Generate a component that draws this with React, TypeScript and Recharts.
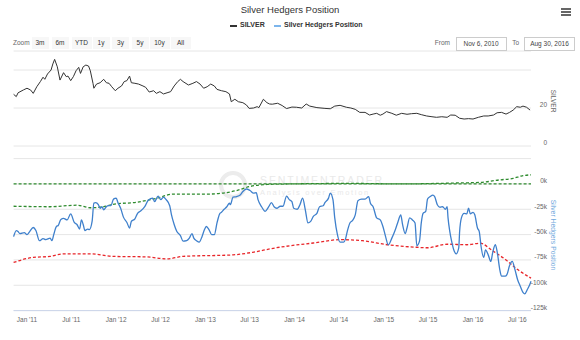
import React from "react";
import { LineChart, Line, XAxis, YAxis, CartesianGrid } from "recharts";

// dates are decimal years
const silverDates = [
  2010.85, 2010.88, 2010.9, 2010.96, 2011.0, 2011.04, 2011.07, 2011.11, 2011.15, 2011.18, 2011.2, 2011.23,
  2011.27, 2011.29, 2011.31, 2011.34, 2011.37, 2011.41, 2011.44, 2011.46, 2011.49, 2011.52, 2011.55, 2011.58,
  2011.6, 2011.63, 2011.66, 2011.69, 2011.71, 2011.74, 2011.75, 2011.78, 2011.82, 2011.86, 2011.89, 2011.92,
  2011.95, 2011.99, 2012.02, 2012.06, 2012.09, 2012.12, 2012.15, 2012.17, 2012.21, 2012.25, 2012.3, 2012.33,
  2012.37, 2012.42, 2012.45, 2012.49, 2012.53, 2012.57, 2012.61, 2012.65, 2012.69, 2012.72, 2012.75, 2012.81,
  2012.86, 2012.9, 2012.94, 2012.98, 2013.02, 2013.06, 2013.1, 2013.13, 2013.18, 2013.23, 2013.27, 2013.29,
  2013.33, 2013.37, 2013.42, 2013.46, 2013.49, 2013.54, 2013.58, 2013.6, 2013.65, 2013.69, 2013.72, 2013.75,
  2013.81, 2013.86, 2013.91, 2013.97, 2014.02, 2014.08, 2014.13, 2014.17, 2014.25, 2014.34, 2014.4, 2014.45,
  2014.51, 2014.58, 2014.63, 2014.68, 2014.73, 2014.79, 2014.84, 2014.88, 2014.92, 2014.96, 2014.99, 2015.03,
  2015.09, 2015.14, 2015.2, 2015.26, 2015.31, 2015.37, 2015.42, 2015.48, 2015.54, 2015.59, 2015.65, 2015.71,
  2015.75, 2015.8, 2015.85, 2015.9, 2015.95, 2016.0, 2016.06, 2016.12, 2016.17, 2016.23, 2016.27, 2016.32,
  2016.37, 2016.41, 2016.45, 2016.49, 2016.53, 2016.56, 2016.6, 2016.64,
];
const silverPrice = [
  27.2, 26, 28, 29.5, 30.4, 29.5, 27.7, 31.2, 33.9, 36.2, 35.1, 37.9,
  40, 43.2, 45.6, 41.7, 34.7, 38.6, 36.5, 36.8, 34.4, 36.5, 39.6, 41.4,
  38.2, 41.7, 42.6, 42.1, 39.6, 33, 30.4, 32.6, 33.3, 35.1, 33.3, 33,
  31.2, 29.1, 30.4, 31.6, 33.9, 34.4, 36.8, 33.3, 33, 32.6, 31.6, 30.9,
  28.4, 29.1, 27.7, 28.6, 27.4, 28, 28.6, 31.6, 33.9, 35.1, 33.9, 32.1,
  33, 33.9, 32.6, 30.4, 31.2, 32.6, 31.6, 29.8, 29.1, 28.6, 27.4, 23.3,
  24.6, 23.3, 22.8, 21.6, 19.8, 20, 20.7, 20.2, 24.6, 22.8, 22.1, 22,
  22.5, 21.3, 19.7, 20.5, 20.4, 20, 22.1, 21, 20.2, 19.8, 19.6, 21,
  21.4, 20.4, 20, 19.3, 17.7, 17.7, 16.3, 16.8, 17.2, 16.2, 16.8, 18.1,
  17.2, 16.2, 17.2, 16.7, 17, 17.2, 16.5, 15.8, 15.4, 15.1, 15.4, 15.1,
  16.3, 16.2, 14.6, 14.2, 14.4, 14.2, 15.1, 15.8, 15.8, 16.3, 17.5, 17.7,
  16.8, 17.7, 18.9, 20.7, 20.4, 21, 20.4, 18.9,
];

const hedgerDates = [
  2010.85, 2010.88, 2010.9, 2010.92, 2010.97, 2011.0, 2011.03, 2011.07, 2011.1, 2011.14, 2011.18, 2011.21,
  2011.26, 2011.28, 2011.3, 2011.33, 2011.35, 2011.38, 2011.41, 2011.45, 2011.49, 2011.53, 2011.56, 2011.59,
  2011.61, 2011.63, 2011.65, 2011.68, 2011.7, 2011.73, 2011.75, 2011.77, 2011.8, 2011.82, 2011.84, 2011.86,
  2011.89, 2011.91, 2011.94, 2011.97, 2012.0, 2012.02, 2012.05, 2012.08, 2012.12, 2012.15, 2012.17, 2012.21,
  2012.24, 2012.27, 2012.32, 2012.36, 2012.41, 2012.43, 2012.47, 2012.5, 2012.53, 2012.56, 2012.6, 2012.62,
  2012.65, 2012.68, 2012.72, 2012.75, 2012.79, 2012.82, 2012.85, 2012.87, 2012.9, 2012.93, 2012.96, 2012.99,
  2013.01, 2013.04, 2013.07, 2013.1, 2013.13, 2013.16, 2013.18, 2013.21, 2013.24, 2013.27, 2013.28, 2013.31,
  2013.35, 2013.39, 2013.42, 2013.46, 2013.5, 2013.54, 2013.57, 2013.59, 2013.63, 2013.67, 2013.71, 2013.74,
  2013.77, 2013.8, 2013.84, 2013.87, 2013.91, 2013.94, 2013.97, 2013.99, 2014.03, 2014.06, 2014.09, 2014.12,
  2014.15, 2014.18, 2014.21, 2014.25, 2014.28, 2014.32, 2014.34, 2014.38, 2014.4, 2014.43, 2014.45, 2014.48,
  2014.51, 2014.55, 2014.57, 2014.59, 2014.62, 2014.65, 2014.68, 2014.71, 2014.75, 2014.79, 2014.83, 2014.85,
  2014.88, 2014.92, 2014.96, 2014.99, 2015.02, 2015.05, 2015.09, 2015.13, 2015.16, 2015.19, 2015.21, 2015.24,
  2015.26, 2015.29, 2015.32, 2015.35, 2015.37, 2015.4, 2015.42, 2015.44, 2015.47, 2015.49, 2015.52, 2015.55,
  2015.57, 2015.6, 2015.63, 2015.66, 2015.69, 2015.71, 2015.72, 2015.74, 2015.76, 2015.79, 2015.81, 2015.84,
  2015.85, 2015.87, 2015.9, 2015.93, 2015.95, 2015.97, 2016.0, 2016.02, 2016.05, 2016.07, 2016.09, 2016.12,
  2016.14, 2016.17, 2016.2, 2016.22, 2016.25, 2016.27, 2016.3, 2016.32, 2016.36, 2016.38, 2016.41, 2016.44,
  2016.47, 2016.5, 2016.53, 2016.56, 2016.58, 2016.61, 2016.64, 2016.65,
];
// thousands of contracts
const hedgerPosition = [
  -52, -46, -47, -49, -48, -50, -47, -43, -46, -56, -54, -55,
  -53.5, -56, -50, -42, -41, -35, -34, -35.5, -29.5, -38, -40, -44.5,
  -35.5, -40, -46, -44.5, -45, -37, -19, -18.5, -20.5, -24, -22.5, -25.5,
  -22.5, -21.5, -21.5, -15, -14, -18.5, -24, -32.5, -38, -43.5, -37, -34.5,
  -29, -27, -22.5, -16, -14, -17.5, -12, -15.5, -13, -15.5, -21.5, -30.5,
  -40, -47, -51, -56.5, -56, -53.5, -49, -53.5, -56, -57.5, -52.5, -45,
  -42, -45, -50, -50, -38.5, -29.5, -28, -25, -22.5, -19, -20.5, -13,
  -12.5, -11, -7.5, -5, -6.5, -9, -8.5, -15.5, -22.5, -27, -22.5, -18.5,
  -22.5, -24, -22, -22, -12, -15.5, -17.5, -24, -25, -20.5, -14, -25.5,
  -38.5, -37, -32, -29, -22.5, -21.5, -18.5, -14, -9, -15.5, -33.5, -50,
  -57.5, -57.5, -54.5, -47, -38.5, -36, -30.5, -16.5, -15, -15, -12.5, -19,
  -22.5, -33.5, -35.5, -42, -52, -60, -53.5, -45, -37, -30.5, -40, -49,
  -43.5, -33.5, -35.5, -38.5, -61, -56.5, -38.5, -29, -27, -15, -12.5, -11,
  -12.5, -20.5, -23, -22.5, -25, -22.5, -33.5, -47, -56.5, -66.5, -69, -63,
  -47, -33.5, -29, -29.5, -24, -29.5, -28, -30.5, -43.5, -47, -61.5, -72.5,
  -65, -70, -76.5, -68, -60, -66.5, -84.5, -91, -91, -89.5, -80.5, -76.5,
  -84.5, -94.5, -101, -107, -108.5, -104, -98.5, -96,
];

const upperBandDates = [2010.85, 2013.0, 2016.65];
const upperBand = [0, 0, 0];

const lowerBandDates = [
  2010.85, 2011.26, 2011.56, 2011.71, 2011.82, 2012.01, 2012.19, 2012.36, 2012.46, 2012.64, 2013.02, 2013.2,
  2013.35, 2013.5, 2013.69, 2013.95, 2014.62, 2015.18, 2015.85, 2016.08, 2016.3, 2016.45, 2016.55, 2016.65,
];
const lowerBand = [
  -22, -22.5, -21, -23.5, -23, -19.5, -18.5, -16, -14, -10, -10, -9,
  -6.5, -2.5, -0.5, 0, 0.5, 0, 1, 1.5, 4, 5.5, 8, 9,
];

const redBandDates = [
  2010.85, 2011.07, 2011.26, 2011.41, 2011.71, 2011.96, 2012.34, 2012.57, 2012.75, 2013.31, 2013.53, 2013.76,
  2013.95, 2014.21, 2014.51, 2014.76, 2015.04, 2015.33, 2015.49, 2015.71, 2015.93, 2016.08, 2016.22, 2016.37,
  2016.5, 2016.65,
];
const redBand = [
  -77.5, -72.5, -71.5, -69, -69, -71.5, -72, -74, -71.5, -70, -67.5, -63.5,
  -61, -58.3, -55, -56, -60, -62.3, -63, -59.5, -60, -58.5, -66, -75,
  -84.5, -93,
];

const xTicks = [2011, 2011.496, 2012, 2012.497, 2013, 2013.496, 2014, 2014.496, 2015, 2015.496, 2016, 2016.497];
const xTickLabels = ["Jan '11", "Jul '11", "Jan '12", "Jul '12", "Jan '13", "Jul '13", "Jan '14", "Jul '14", "Jan '15", "Jul '15", "Jan '16", "Jul '16"];
const silverTicks = [0, 20, 40];
const silverTickLabels = ["0", "20", ""];
const hedgerTicks = [-125, -100, -75, -50, -25, 0, 25];
const hedgerTickLabels = ["-125k", "-100k", "-75k", "-50k", "-25k", "0k", ""];
const zoomButtons = ["3m", "6m", "YTD", "1y", "3y", "5y", "10y", "All"];

const FONT = '"Liberation Sans", Arial, sans-serif';
const X_DOMAIN = [2010.85, 2016.65];

function mergeRows(series: [string, number[], number[]][]) {
  const map = new Map<number, any>();
  series.forEach(([key, xs, ys]) =>
    xs.forEach((x, i) => {
      const row = map.get(x) ?? { t: x };
      row[key] = ys[i];
      map.set(x, row);
    })
  );
  return [...map.values()].sort((a, b) => a.t - b.t);
}

const silverRows = mergeRows([["silver", silverDates, silverPrice]]);
const hedgerRows = mergeRows([
  ["hedgers", hedgerDates, hedgerPosition],
  ["upper", upperBandDates, upperBand],
  ["lower", lowerBandDates, lowerBand],
  ["red", redBandDates, redBand],
]);

function rightTick(ticks: number[], labels: string[]) {
  return (props: any) => {
    const i = ticks.indexOf(props.payload.value);
    return (
      <text x={547} y={props.y - 3} dy="0.35em" textAnchor="end" fontSize={6.5} fill="#666" fontFamily={FONT}>
        {labels[i] ?? ""}
      </text>
    );
  };
}

// x labels sit about 8.5px under the axis line (chart-local coordinates)
function bottomTick(props: any) {
  const i = xTicks.indexOf(props.payload.value);
  return (
    <text x={props.x} y={169.3} dy="0.35em" textAnchor="middle" fontSize={6.5} fill="#666" fontFamily={FONT}>
      {xTickLabels[i]}
    </text>
  );
}

const buttonX = [40, 60, 81.5, 101, 120.5, 140, 159.5, 180.5];

export default function App() {
  return (
    <div style={{ position: "relative", width: 580, height: 340, background: "#fff", overflow: "hidden", fontFamily: FONT }}>
      <style>{"body{margin:0}"}</style>

      {/* watermark behind the plot */}
      <svg width={580} height={340} style={{ position: "absolute", left: 0, top: 0 }}>
        <circle cx={233} cy={185} r={12} fill="none" stroke="#ececec" strokeWidth={4} />
        <text x={260} y={184} fontSize={10.5} letterSpacing={1.9} fill="#e9e9e9" fontFamily={FONT}>SENTIMENTRADER</text>
        <text x={260} y={195} fontSize={7.5} letterSpacing={1.7} fill="#e9e9e9" fontFamily={FONT}>Analysis over Emotion</text>
      </svg>

      <div style={{ position: "absolute", left: 0, top: 0 }}>
        <LineChart width={580} height={150} data={silverRows} margin={{ top: 51, right: 0, bottom: 4, left: 13.6 }}>
          <CartesianGrid vertical={false} stroke="#e6e6e6" />
          <XAxis type="number" dataKey="t" domain={X_DOMAIN} hide />
          <YAxis orientation="right" width={49} domain={[0, 50]} ticks={silverTicks} interval={0} axisLine={false} tickLine={false}
            tick={rightTick(silverTicks, silverTickLabels)} />
          <Line type="linear" dataKey="silver" stroke="#333" strokeWidth={1} dot={false} isAnimationActive={false} />
        </LineChart>
      </div>

      <div style={{ position: "absolute", left: 0, top: 150 }}>
        <LineChart width={580} height={190} data={hedgerRows} margin={{ top: 8.6, right: 0, bottom: 0, left: 13.6 }}>
          <CartesianGrid vertical={false} stroke="#e6e6e6" />
          <XAxis type="number" dataKey="t" domain={X_DOMAIN} ticks={xTicks} height={29.4} tickLine={false}
            axisLine={{ stroke: "#ccd6eb" }} tick={bottomTick} interval={0} />
          <YAxis orientation="right" width={49} domain={[-125, 25]} ticks={hedgerTicks} interval={0} axisLine={false} tickLine={false}
            tick={rightTick(hedgerTicks, hedgerTickLabels)} />
          <Line type="monotone" dataKey="upper" stroke="#2e8b2e" strokeWidth={1.3} strokeDasharray="3 2" dot={false} connectNulls isAnimationActive={false} />
          <Line type="monotone" dataKey="lower" stroke="#2e8b2e" strokeWidth={1.3} strokeDasharray="3 2" dot={false} connectNulls isAnimationActive={false} />
          <Line type="monotone" dataKey="red" stroke="#e8262a" strokeWidth={1.3} strokeDasharray="3 2" dot={false} connectNulls isAnimationActive={false} />
          <Line type="monotone" dataKey="hedgers" stroke="#3f80cc" strokeWidth={1.3} dot={false} connectNulls isAnimationActive={false} />
        </LineChart>
      </div>

      {/* header: title, legend, range selector */}
      <div style={{ position: "absolute", left: 0, top: 4, width: 580, textAlign: "center", fontSize: 9.5, color: "#333" }}>
        Silver Hedgers Position
      </div>
      <div style={{ position: "absolute", left: 230, top: 24.5, width: 7, height: 2, background: "#333" }} />
      <div style={{ position: "absolute", left: 240, top: 21, fontSize: 7, fontWeight: "bold", color: "#333" }}>SILVER</div>
      <div style={{ position: "absolute", left: 274, top: 24.5, width: 7, height: 2, background: "#7cb5ec" }} />
      <div style={{ position: "absolute", left: 284, top: 21, fontSize: 7, fontWeight: "bold", color: "#333" }}>Silver Hedgers Position</div>
      <div style={{ position: "absolute", left: 561, top: 8, width: 10 }}>
        {[0, 3, 6].map((d) => (
          <div key={d} style={{ position: "absolute", top: d, width: 10, height: 1.5, background: "#666" }} />
        ))}
      </div>

      <div style={{ position: "absolute", left: 13, top: 39, fontSize: 6.5, color: "#666" }}>Zoom</div>
      {zoomButtons.map((b, i) => (
        <div key={b} style={{
          position: "absolute", left: buttonX[i] - (b.length > 2 ? 10 : 8.5), top: 37, width: b.length > 2 ? 20 : 17, height: 12,
          background: "#f7f7f7", fontSize: 6.5, color: "#333", textAlign: "center", lineHeight: "12px",
        }}>{b}</div>
      ))}
      <div style={{ position: "absolute", left: 430, top: 39, width: 20, textAlign: "right", fontSize: 6.5, color: "#666" }}>From</div>
      <div style={{ position: "absolute", left: 455.5, top: 36.5, width: 49, height: 12, border: "1px solid #ccc", fontSize: 6.5, color: "#444", textAlign: "center", lineHeight: "12px" }}>Nov 6, 2010</div>
      <div style={{ position: "absolute", left: 509, top: 39, width: 10, textAlign: "right", fontSize: 6.5, color: "#666" }}>To</div>
      <div style={{ position: "absolute", left: 524, top: 36.5, width: 49, height: 12, border: "1px solid #ccc", fontSize: 6.5, color: "#444", textAlign: "center", lineHeight: "12px" }}>Aug 30, 2016</div>

      {/* axis titles */}
      <svg width={580} height={340} style={{ position: "absolute", left: 0, top: 0, pointerEvents: "none" }}>
        <text transform="translate(553,101) rotate(90)" textAnchor="middle" dy="0.35em" fontSize={6.5} fill="#666" fontFamily={FONT}>SILVER</text>
        <text transform="translate(553,235) rotate(90)" textAnchor="middle" dy="0.35em" fontSize={6.8} fill="#6fa8dc" fontFamily={FONT}>Silver Hedgers Position</text>
      </svg>
    </div>
  );
}
